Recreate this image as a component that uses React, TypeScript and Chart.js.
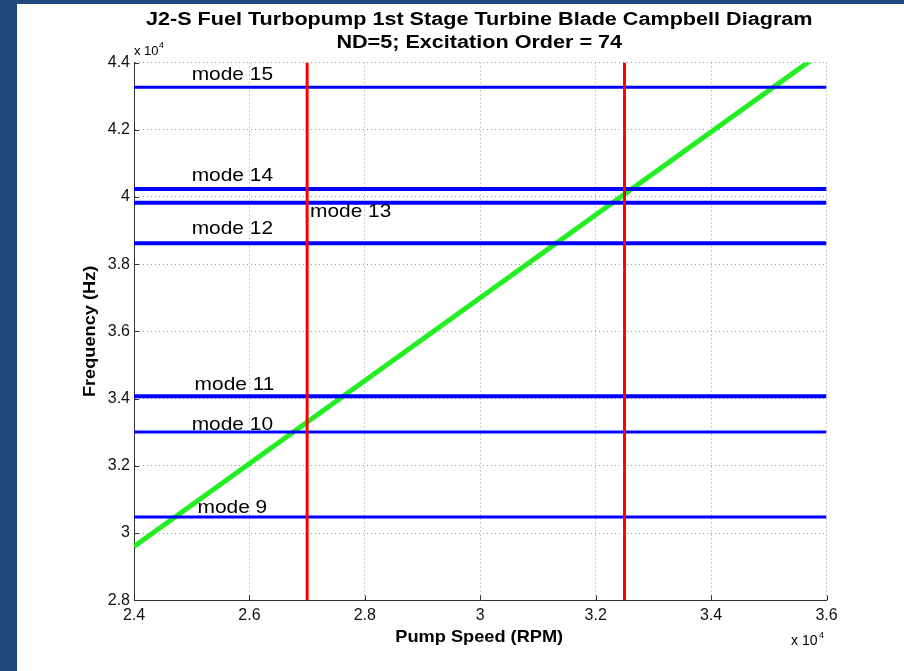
import React, { useEffect, useRef } from 'react';
import { Chart, registerables } from 'chart.js';

Chart.register(...registerables);

// ---- data ----
const titleLines = [
  'J2-S Fuel Turbopump 1st Stage Turbine Blade Campbell Diagram',
  'ND=5; Excitation Order = 74',
];
const xAxisTitle = 'Pump Speed (RPM)';
const yAxisTitle = 'Frequency (Hz)';
const xTicks = [24000, 26000, 28000, 30000, 32000, 34000, 36000];
const yTicks = [28000, 30000, 32000, 34000, 36000, 38000, 40000, 42000, 44000];
const modeNames = ['mode 9', 'mode 10', 'mode 11', 'mode 12', 'mode 13', 'mode 14', 'mode 15'];
const modeFreqs = [30480, 33010, 34070, 38620, 39830, 40240, 43260];
const modeLabelRpm = [25100, 25000, 25050, 25000, 27050, 25000, 25000];
const modeLabelHz = [30610, 33080, 34250, 38900, 39390, 40480, 43480];
const limitRpms = [27000, 32500];
const excitationRpm = [24000, 36000];
const excitationHz = [29600, 44400];

// ---- styles ----
const modeLineWidths = [3, 3, 4, 4, 4, 4, 3];
const FONT = '"Liberation Sans", Arial, sans-serif';
const BLUE = '#0000ff';
const RED = '#ff0000';
const GREEN = '#22ee22';
const FRAME = '#1f497d';

function txt(ctx: CanvasRenderingContext2D, s: string, x: number, y: number, font: string, align: CanvasTextAlign, sx = 1, rot = 0) {
  ctx.save();
  ctx.font = font;
  ctx.fillStyle = '#000';
  ctx.textAlign = align;
  ctx.textBaseline = 'alphabetic';
  ctx.translate(x, y);
  if (rot) ctx.rotate(rot);
  ctx.scale(sx, 1);
  ctx.fillText(s, 0, 0);
  ctx.restore();
}

const decorPlugin = {
  id: 'decor',
  beforeDraw(chart: any) {
    const ctx = chart.ctx as CanvasRenderingContext2D;
    ctx.save();
    ctx.fillStyle = '#ffffff';
    ctx.fillRect(0, 0, chart.width, chart.height);
    ctx.fillStyle = FRAME;
    ctx.fillRect(0, 0, 17, chart.height);
    ctx.fillRect(0, 0, chart.width, 4);
    ctx.restore();
  },
  afterDatasetsDraw(chart: any) {
    const ctx = chart.ctx as CanvasRenderingContext2D;
    const xs = chart.scales.x;
    const ys = chart.scales.y;
    const area = chart.chartArea;
    // inner tick marks
    ctx.save();
    ctx.strokeStyle = '#333';
    ctx.lineWidth = 1;
    ctx.beginPath();
    xTicks.forEach((v) => {
      const px = Math.round(xs.getPixelForValue(v)) + 0.5;
      ctx.moveTo(px, area.bottom);
      ctx.lineTo(px, area.bottom - 5);
    });
    yTicks.forEach((v) => {
      const py = Math.round(ys.getPixelForValue(v)) + 0.5;
      ctx.moveTo(area.left, py);
      ctx.lineTo(area.left + 5, py);
    });
    ctx.stroke();
    ctx.restore();

    // mode labels
    modeNames.forEach((name, i) => {
      const px = xs.getPixelForValue(modeLabelRpm[i]);
      const py = ys.getPixelForValue(modeLabelHz[i]);
      txt(ctx, name, px, py, `19px ${FONT}`, 'left', 1.1);
    });
  },
  afterDraw(chart: any) {
    const ctx = chart.ctx as CanvasRenderingContext2D;
    const area = chart.chartArea;
    const cx = (area.left + area.right) / 2;
    txt(ctx, titleLines[0], cx - 1, 25, `bold 18px ${FONT}`, 'center', 1.2);
    txt(ctx, titleLines[1], cx - 1, 48, `bold 18px ${FONT}`, 'center', 1.2);
    txt(ctx, xAxisTitle, cx - 1, 642, `bold 17px ${FONT}`, 'center', 1.07);
    txt(ctx, yAxisTitle, 95, (area.top + area.bottom) / 2, `bold 17px ${FONT}`, 'center', 1.07, -Math.PI / 2);
    // exponent labels
    txt(ctx, 'x 10', area.left, 55, `13px ${FONT}`, 'left');
    txt(ctx, '4', area.left + 25, 48, `9px ${FONT}`, 'left');
    txt(ctx, 'x 10', 791, 645, `14px ${FONT}`, 'left');
    txt(ctx, '4', 819, 638, `9px ${FONT}`, 'left');
  },
};

export default function App() {
  const ref = useRef<HTMLCanvasElement | null>(null);
  useEffect(() => {
    if (!ref.current) return;
    const datasets: any[] = [];
    limitRpms.forEach((r) => {
      datasets.push({
        data: [{ x: r, y: yTicks[0] }, { x: r, y: yTicks[yTicks.length - 1] }],
        borderColor: RED,
        borderWidth: 3,
        pointRadius: 0,
        order: 0,
        clip: 0,
      });
    });
    modeFreqs.forEach((f, i) => {
      datasets.push({
        data: [{ x: xTicks[0], y: f }, { x: xTicks[xTicks.length - 1], y: f }],
        borderColor: BLUE,
        borderWidth: modeLineWidths[i],
        pointRadius: 0,
        order: 1,
        clip: 0,
      });
    });
    datasets.push({
      data: excitationRpm.map((r, i) => ({ x: r, y: excitationHz[i] })),
      borderColor: GREEN,
      borderWidth: 5,
      pointRadius: 0,
      order: 2,
      clip: 0,
    });

    const chart = new Chart(ref.current, {
      type: 'line',
      data: { datasets },
      plugins: [decorPlugin],
      options: {
        animation: false,
        responsive: false,
        devicePixelRatio: 1,
        layout: { autoPadding: false, padding: { left: 0, top: 62.5, right: 77.5, bottom: 0 } },
        plugins: { legend: { display: false }, title: { display: false }, tooltip: { enabled: false } },
        elements: { line: { tension: 0, borderCapStyle: 'butt' } },
        scales: {
          x: {
            type: 'linear',
            min: xTicks[0],
            max: xTicks[xTicks.length - 1],
            afterBuildTicks: (s: any) => { s.ticks = xTicks.map((v) => ({ value: v })); },
            afterFit: (s: any) => { s.height = 70.7; },
            ticks: {
              callback: (v: any) => String(Number(v) / 10000),
              font: { family: FONT, size: 16 },
              color: '#111',
              padding: 6,
              maxRotation: 0,
              autoSkip: false,
            },
            grid: { color: '#999', lineWidth: 1, drawTicks: false },
            border: { display: true, color: '#333', width: 1, dash: [1, 3] },
          },
          y: {
            type: 'linear',
            min: yTicks[0],
            max: yTicks[yTicks.length - 1],
            afterBuildTicks: (s: any) => { s.ticks = yTicks.map((v) => ({ value: v })); },
            afterFit: (s: any) => { s.width = 134; },
            ticks: {
              callback: (v: any) => String(Number(v) / 10000),
              font: { family: FONT, size: 16 },
              color: '#111',
              padding: 4,
              autoSkip: false,
            },
            grid: { color: '#999', lineWidth: 1, drawTicks: false },
            border: { display: true, color: '#333', width: 1, dash: [1, 3] },
          },
        },
      } as any,
    });
    return () => chart.destroy();
  }, []);

  return (
    <div style={{ position: 'fixed', left: 0, top: 0, width: 904, height: 671, background: '#fff' }}>
      <canvas ref={ref} width={904} height={671} style={{ display: 'block', width: 904, height: 671 }} />
    </div>
  );
}
